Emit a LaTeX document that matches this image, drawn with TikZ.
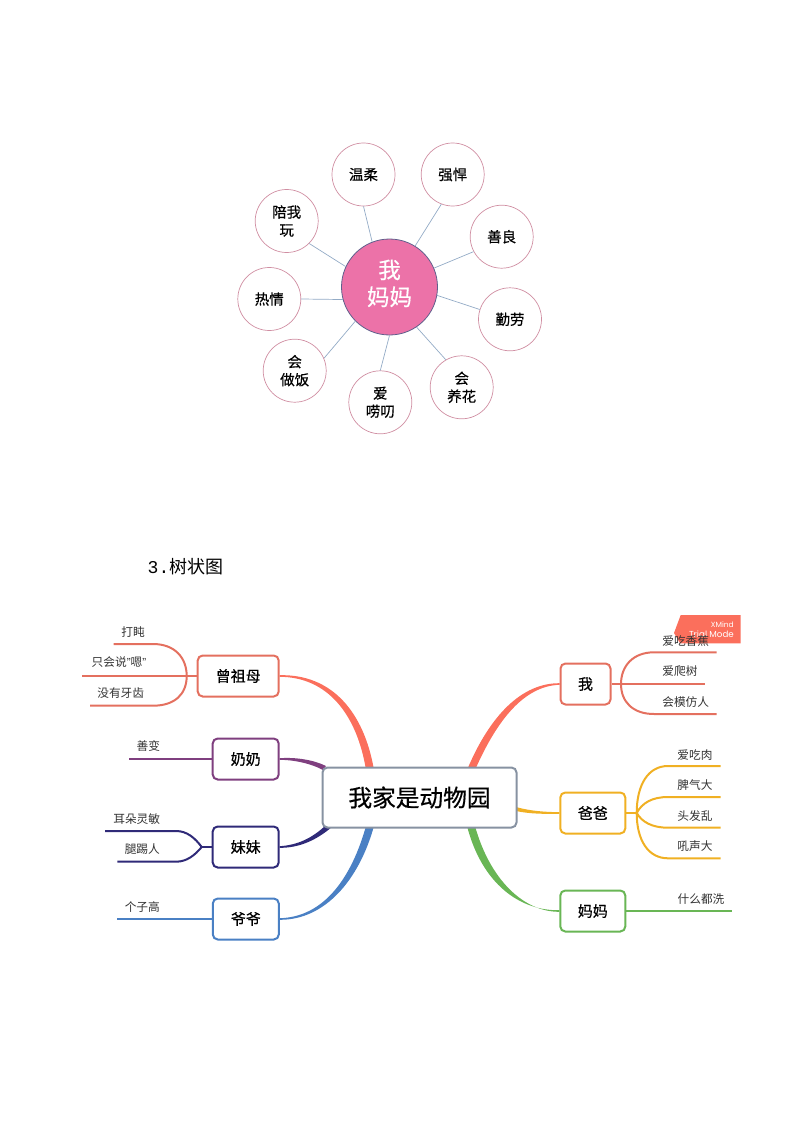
\documentclass[tikz,border=0pt]{standalone}
\usepackage{fontspec}
\usepackage{xcolor}
\usetikzlibrary{calc, backgrounds}
\setmainfont{Noto Sans CJK SC}
\newfontfamily\cjkmed[FakeBold=0.5]{Noto Sans CJK SC}
\newfontfamily\titlemono{Liberation Mono}
\newfontfamily\badgefont{Poppins}
\newfontfamily\quotefont{Liberation Sans}
\definecolor{hubpink}{HTML}{EC72A8}
\definecolor{hubedge}{HTML}{5F5F8C}
\definecolor{ringpink}{HTML}{D08EA2}
\definecolor{spoke}{HTML}{93ABC6}
\definecolor{coral}{HTML}{E4705F}
\definecolor{coralfat}{HTML}{FB6F5C}
\definecolor{plum}{HTML}{7F3F7F}
\definecolor{navy}{HTML}{2F2A78}
\definecolor{azure}{HTML}{4A80C4}
\definecolor{amber}{HTML}{F0B023}
\definecolor{grass}{HTML}{69B655}
\definecolor{hubgrey}{HTML}{8792A2}
\tikzset{
	ring/.style={circle,draw=ringpink,line width=0.7pt,fill=white,minimum size=63pt,inner sep=0pt,align=center,font=\fontsize{14.5}{18}\cjkmed},
	ringhub/.style={circle,draw=hubedge,line width=0.8pt,fill=hubpink,text=white,minimum size=96pt,inner sep=0pt,align=center,text depth=9pt,font=\fontsize{22.5}{27}\cjkmed},
	branchbox/.style={rectangle,rounded corners=5pt,draw=#1,line width=2pt,fill=white,inner sep=0pt,minimum height=41pt,font=\fontsize{15}{18}\cjkmed},
	leaftext/.style={inner sep=0pt,text=black!80,font=\fontsize{11.7}{14}\selectfont},
	leafline/.style={draw=#1,line width=2pt}
}
\begin{document}
\begin{tikzpicture}[x=1pt,y=-1pt]
	\useasboundingbox (0,0) rectangle (794,1123);
	%Top picture: bubble map
	\node [ringhub] (mum) at (389.5,287) {我\\妈妈};
	\node [ring] (soft) at (363.5,174.5) {温柔};
	\node [ring] (tough) at (452.7,174.5) {强悍};
	\node [ring] (kind) at (501.7,236.7) {善良};
	\node [ring] (busy) at (510,319.3) {勤劳};
	\node [ring] (flower) at (461.7,387.3) {会\\养花};
	\node [ring] (nag) at (380.3,402.3) {爱\\唠叨};
	\node [ring] (cook) at (294.7,370.7) {会\\做饭};
	\node [ring] (warm) at (269.3,299) {热情};
	\node [ring] (play) at (286.7,221) {陪我\\玩};
	\foreach \i/\a/\b in {soft/111/270,tough/58/249,kind/23/208,busy/-10/162,flower/-56/120,nag/-90/90,cook/225/23,warm/195/0,play/155/-45} {
		\draw [spoke,line width=0.7pt] (mum.\a) -- (\i.\b);
	}
	%Heading
	\node [anchor=west,inner sep=0pt,font=\fontsize{18}{20}\selectfont] (heading) at (147.5,567) {{\titlemono 3.}树状图};
	%Trial badge
	\fill [coralfat] (674,633) -- (680.7,615) -- (740.7,615) -- (740.7,643.3) -- (680,643.3) -- cycle;
	\node [anchor=east,inner sep=0pt,text=white,font=\fontsize{7.5}{8}\badgefont] (badgeA) at (734,624.7) {XMind};
	\node [anchor=east,inner sep=0pt,text=white,font=\fontsize{8.7}{10}\badgefont] (badgeB) at (734,634) {Trial Mode};
	%Centre and the branches
	\node [rectangle,rounded corners=5pt,draw=hubgrey,line width=2pt,fill=white,minimum width=194pt,minimum height=60pt,inner sep=0pt,font=\fontsize{23.7}{28}\cjkmed] (zoo) at (419.5,797.5) {我家是动物园};
	\node [branchbox=coral,minimum width=81pt] (gran) at (238.2,676) {曾祖母};
	\node [branchbox=plum,minimum width=66pt] (nana) at (245.7,759) {奶奶};
	\node [branchbox=navy,minimum width=66pt] (sis) at (245.7,847) {妹妹};
	\node [branchbox=azure,minimum width=66pt] (gpa) at (245.8,919) {爷爷};
	\node [branchbox=coral,minimum width=50pt] (me) at (585.5,684) {我};
	\node [branchbox=amber,minimum width=65pt] (dad) at (592.8,813) {爸爸};
	\node [branchbox=grass,minimum width=65pt] (mom) at (592.8,911) {妈妈};
	%Thick parts running into the centre
	\begin{scope}[on background layer]
		\fill [coralfat] ($(gran.east)+(0,0.8)$) .. controls (328,677) and (357,715) .. (366,770) -- (374,770) .. controls (364,712) and (332,674) .. ($(gran.east)+(0,-0.8)$) -- cycle;
		\fill [plum] ($(nana.east)+(0,0.8)$) .. controls (296,760) and (312,764) .. (323,770) -- (326,766) .. controls (314,760) and (296,757) .. ($(nana.east)+(0,-0.8)$) -- cycle;
		\fill [navy] ($(sis.east)+(0,0.8)$) .. controls (298,848) and (316,841) .. (333,826) -- (325,826) .. controls (312,838) and (298,845) .. ($(sis.east)+(0,-0.8)$) -- cycle;
		\fill [azure] ($(gpa.east)+(0,0.8)$) .. controls (325,920) and (359,880) .. (374,826) -- (366,826) .. controls (352,876) and (325,917) .. ($(gpa.east)+(0,-0.8)$) -- cycle;
		\fill [coralfat] ($(me.west)+(0,-0.8)$) .. controls (522,683) and (490,715) .. (467,770) -- (475,770) .. controls (497,720) and (524,686) .. ($(me.west)+(0,0.8)$) -- cycle;
		\fill [amber] ($(dad.west)+(0,-0.8)$) .. controls (545,812) and (530,811) .. (516,807) -- (516,811) .. controls (530,814) and (545,814) .. ($(dad.west)+(0,0.8)$) -- cycle;
		\fill [grass] ($(mom.west)+(0,0.8)$) .. controls (524,912) and (490,880) .. (475,826) -- (467,826) .. controls (482,884) and (520,911) .. ($(mom.west)+(0,-0.8)$) -- cycle;
	\end{scope}
	%Leaves of the left side
	\coordinate (granFork) at (186.7,676);
	\coordinate (granBendA) at (153,644);
	\coordinate (granBendB) at (153,705.7);
	\coordinate (granA) at (113.7,644);
	\coordinate (granB) at (81.7,676);
	\coordinate (granC) at (90,705.7);
	\draw [leafline=coral] (gran.west) -- (granB);
	\draw [leafline=coral] (granFork) .. controls (186.7,658) and (175,644) .. (granBendA) -- (granA);
	\draw [leafline=coral] (granFork) .. controls (186.7,694) and (175,705.7) .. (granBendB) -- (granC);
	\node [leaftext] (granTextA) at (133,632.5) {打盹};
	\node [leaftext] (granTextB) at (119,662.5) {只会说{\quotefont ”}嗯{\quotefont ”}};
	\node [leaftext] (granTextC) at (120.7,693.5) {没有牙齿};
	\coordinate (nanaA) at (129.3,759);
	\draw [leafline=plum] (nana.west) -- (nanaA);
	\node [leaftext] (nanaTextA) at (148.3,746.5) {善变};
	\coordinate (sisFork) at (201.7,847);
	\coordinate (sisBendA) at (176,831);
	\coordinate (sisBendB) at (176,861.7);
	\coordinate (sisA) at (105,831);
	\coordinate (sisB) at (117.3,861.7);
	\draw [leafline=navy] (sis.west) -- (sisFork);
	\draw [leafline=navy] (sisFork) .. controls (195,838) and (187,831) .. (sisBendA) -- (sisA);
	\draw [leafline=navy] (sisFork) .. controls (195,855) and (187,861.7) .. (sisBendB) -- (sisB);
	\node [leaftext] (sisTextA) at (136.7,818.7) {耳朵灵敏};
	\node [leaftext] (sisTextB) at (142.3,849.3) {腿踢人};
	\coordinate (gpaA) at (117.3,919);
	\draw [leafline=azure] (gpa.west) -- (gpaA);
	\node [leaftext] (gpaTextA) at (142.3,906.7) {个子高};
	%Leaves of the right side
	\coordinate (meFork) at (621,684);
	\coordinate (meBendA) at (654,652.3);
	\coordinate (meBendC) at (654,714);
	\coordinate (meA) at (716.7,652.3);
	\coordinate (meB) at (705,684);
	\coordinate (meC) at (716.7,714);
	\draw [leafline=coral] (me.east) -- (meB);
	\draw [leafline=coral] (meFork) .. controls (621,666) and (633,652.3) .. (meBendA) -- (meA);
	\draw [leafline=coral] (meFork) .. controls (621,702) and (633,714) .. (meBendC) -- (meC);
	\node [leaftext] (meTextA) at (685.7,640.7) {爱吃香蕉};
	\node [leaftext] (meTextB) at (680,671.3) {爱爬树};
	\node [leaftext] (meTextC) at (685.7,701.7) {会模仿人};
	\coordinate (dadFork) at (636.7,813);
	\coordinate (dadBendA) at (668,766);
	\coordinate (dadBendB) at (668,797);
	\coordinate (dadBendC) at (668,827.7);
	\coordinate (dadBendD) at (668,858.3);
	\coordinate (dadA) at (720.7,766);
	\coordinate (dadB) at (720.7,797);
	\coordinate (dadC) at (720.7,827.7);
	\coordinate (dadD) at (720.7,858.3);
	\draw [leafline=amber] (dad.east) -- (dadFork);
	\draw [leafline=amber] (dadFork) .. controls (636.7,785) and (648,766) .. (dadBendA) -- (dadA);
	\draw [leafline=amber] (dadFork) .. controls (642,803) and (652,797) .. (dadBendB) -- (dadB);
	\draw [leafline=amber] (dadFork) .. controls (642,822) and (652,827.7) .. (dadBendC) -- (dadC);
	\draw [leafline=amber] (dadFork) .. controls (636.7,840) and (648,858.3) .. (dadBendD) -- (dadD);
	\node [leaftext] (dadTextA) at (695,754.7) {爱吃肉};
	\node [leaftext] (dadTextB) at (695,785) {脾气大};
	\node [leaftext] (dadTextC) at (695,815.7) {头发乱};
	\node [leaftext] (dadTextD) at (695,846) {吼声大};
	\coordinate (momA) at (732.3,911);
	\draw [leafline=grass] (mom.east) -- (momA);
	\node [leaftext] (momTextA) at (701,899) {什么都洗};
\end{tikzpicture}
\end{document}
